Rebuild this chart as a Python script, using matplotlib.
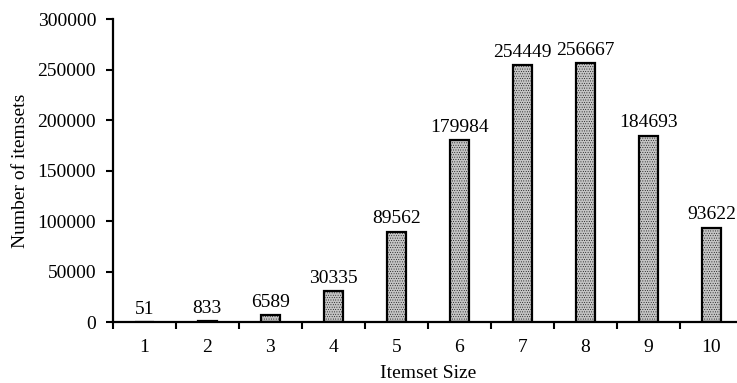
import matplotlib.pyplot as plt

sizes = [1, 2, 3, 4, 5, 6, 7, 8, 9, 10]
counts = [51, 833, 6589, 30335, 89562, 179984, 254449, 256667, 184693, 93622]
yticks = [0, 50000, 100000, 150000, 200000, 250000, 300000]

plt.rcParams['font.family'] = ['Liberation Serif', 'DejaVu Serif']
plt.rcParams['hatch.color'] = '#a0a0a0'
plt.rcParams['hatch.linewidth'] = 0.3

fs = 14

fig = plt.figure(figsize=(7.37, 3.83), dpi=100)
ax = fig.add_axes([0.153, 0.159, 0.855, 0.791])

ax.bar(sizes, counts, width=0.3, facecolor='#c4c4c4', edgecolor='black',
       linewidth=1.6, hatch='.......')
for x, v in zip(sizes, counts):
    ax.annotate(str(v), (x, v), xytext=(0, 3), textcoords='offset points',
                ha='center', va='bottom', fontsize=fs)

ax.set_xlim(0.5, 10.5)
ax.set_ylim(0, 300000)
ax.set_yticks(yticks)
ax.set_yticklabels([str(t) for t in yticks], fontsize=fs)
ax.set_xticks(sizes)
ax.set_xticklabels([str(s) for s in sizes], fontsize=fs)
ax.set_xticks([i + 0.5 for i in range(0, 11)], minor=True)
ax.tick_params(axis='x', which='major', length=0, pad=12)
ax.tick_params(axis='x', which='minor', length=5, width=1.5, direction='out')
ax.tick_params(axis='y', length=5, width=1.5, direction='out', pad=7)

for s in ['top', 'right']:
    ax.spines[s].set_visible(False)
for s in ['left', 'bottom']:
    ax.spines[s].set_linewidth(1.6)

ax.set_xlabel('Itemset Size', fontsize=fs, labelpad=7)
ax.set_ylabel('Number of itemsets', fontsize=fs, labelpad=6)

fig.savefig('out.png', dpi=100)
